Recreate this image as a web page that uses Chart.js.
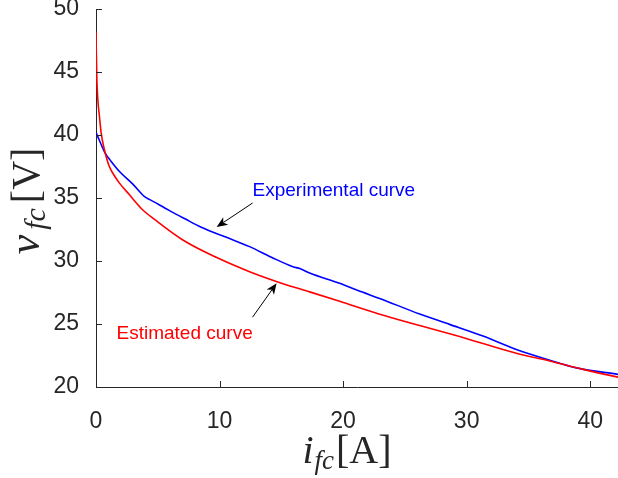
<!DOCTYPE html>
<html>
<head>
<meta charset="utf-8">
<script src="https://cdn.jsdelivr.net/npm/chart.js@4/dist/chart.umd.min.js"></script>
<style>
html,body{margin:0;padding:0;background:#fff;overflow:hidden;}
#wrap{width:618px;height:478px;}
</style>
</head>
<body>
<div id="wrap"><canvas id="c" width="618" height="478"></canvas></div>
<script>
// ---- data ----
const expX = [0, 0.28, 0.74, 1.23, 1.9, 2.98, 3.93, 4.4, 5.95, 7.2, 8.52, 10.5, 12.43, 14.2, 15.94, 16.5, 17.29, 19.72, 21.5, 22.96, 26.2, 28.62, 31.32, 34.02, 36.72, 38.88, 42.25];
const expY = [40.2, 39.56, 38.56, 37.9, 37.1, 36.1, 35.1, 34.85, 34.0, 33.35, 32.68, 31.9, 31.14, 30.3, 29.55, 29.4, 29.05, 28.23, 27.55, 27.03, 25.79, 24.97, 24.04, 22.98, 22.13, 21.52, 21.0];
const estX = [0, 0.02, 0.07, 0.15, 0.28, 0.42, 0.69, 1.0, 1.23, 1.5, 1.9, 2.71, 3.79, 4.74, 7.03, 9.73, 12.43, 15.13, 17.29, 19.72, 22.96, 26.2, 29.43, 31.32, 34.02, 36.72, 39.42, 42.25];
const estY = [48.2, 46.8, 44.4, 42.8, 41.47, 40.15, 38.8, 37.7, 37.2, 36.75, 36.18, 35.25, 34.05, 33.3, 31.67, 30.29, 29.15, 28.2, 27.55, 26.8, 25.78, 24.88, 24.0, 23.45, 22.68, 22.07, 21.4, 20.78];
const xTicks = [0, 10, 20, 30, 40];
const yTicks = [20, 25, 30, 35, 40, 45, 50];
const seriesNames = ['Estimated curve', 'Experimental curve'];
// annotation anchors in data units: [textX, textY, tailX, tailY, headX, headY]
const annExp = [12.67, 35.56, 12.67, 34.6, 9.76, 32.7];
const annEst = [1.66, 24.26, 12.67, 25.54, 14.62, 28.24];

const AX = '#262626';
const tickFont = {family: "'Liberation Sans', Arial, Helvetica, sans-serif", size: 23};

function pts(xs, ys){ return xs.map((x,i)=>({x:x, y:ys[i]})); }

function arrow(ctx, x1, y1, x2, y2){
  const ang = Math.atan2(y2-y1, x2-x1);
  const L = 11, W = 4.5, back = 8;
  ctx.save();
  ctx.strokeStyle = '#000'; ctx.fillStyle = '#000'; ctx.lineWidth = 1;
  ctx.beginPath(); ctx.moveTo(x1,y1);
  ctx.lineTo(x2 - Math.cos(ang)*back, y2 - Math.sin(ang)*back); ctx.stroke();
  ctx.translate(x2,y2); ctx.rotate(ang);
  ctx.beginPath(); ctx.moveTo(0,0); ctx.lineTo(-L, -W); ctx.lineTo(-back, 0); ctx.lineTo(-L, W); ctx.closePath(); ctx.fill();
  ctx.restore();
}

function mathLabel(ctx, main, sub, unit, cx, baseline, mainSize, subSize, g1, g2){
  const serif = "'Liberation Serif', 'DejaVu Serif', serif";
  const f1 = 'italic ' + mainSize + 'px ' + serif, f2 = 'italic ' + subSize + 'px ' + serif, f3 = '40px ' + serif;
  ctx.font = f1; const w1 = ctx.measureText(main).width;
  ctx.font = f2; const w2 = ctx.measureText(sub).width;
  ctx.font = f3; const w3 = ctx.measureText(unit).width;
  const tot = w1 + g1 + w2 + g2 + w3;
  let x = cx - tot/2;
  ctx.fillStyle = AX; ctx.textAlign = 'left'; ctx.textBaseline = 'alphabetic';
  ctx.font = f1; ctx.fillText(main, x, baseline); x += w1 + g1;
  ctx.font = f2; ctx.fillText(sub, x, baseline + 6); x += w2 + g2;
  ctx.font = f3; ctx.fillText(unit, x, baseline);
}

const deco = {
  id: 'deco',
  afterDraw(chart){
    const ctx = chart.ctx, xs = chart.scales.x, ys = chart.scales.y, ca = chart.chartArea;
    ctx.save();
    // inward tick marks
    ctx.strokeStyle = AX; ctx.lineWidth = 1;
    xTicks.forEach(v=>{ const p = Math.round(xs.getPixelForValue(v))+0.5; ctx.beginPath(); ctx.moveTo(p, ca.bottom); ctx.lineTo(p, ca.bottom-6); ctx.stroke(); });
    yTicks.forEach(v=>{ const p = Math.round(ys.getPixelForValue(v))+0.5; ctx.beginPath(); ctx.moveTo(ca.left, p); ctx.lineTo(ca.left+6, p); ctx.stroke(); });
    // annotations
    ctx.font = "19px 'Liberation Sans', Arial, sans-serif"; ctx.textBaseline = 'middle'; ctx.textAlign = 'left';
    ctx.fillStyle = '#0000ff';
    ctx.fillText(seriesNames[1], xs.getPixelForValue(annExp[0]), ys.getPixelForValue(annExp[1]));
    ctx.fillStyle = '#ff0000';
    ctx.fillText(seriesNames[0], xs.getPixelForValue(annEst[0]), ys.getPixelForValue(annEst[1]));
    arrow(ctx, xs.getPixelForValue(annExp[2]), ys.getPixelForValue(annExp[3]), xs.getPixelForValue(annExp[4]), ys.getPixelForValue(annExp[5]));
    arrow(ctx, xs.getPixelForValue(annEst[2]), ys.getPixelForValue(annEst[3]), xs.getPixelForValue(annEst[4]), ys.getPixelForValue(annEst[5]));
    // axis titles
    mathLabel(ctx, 'i', 'fc', '[A]', ca.left + 251, ca.bottom + 76, 40, 27, 1, 2);
    ctx.save();
    ctx.translate(ca.left - 57, (ca.top + ca.bottom)/2 + 3);
    ctx.rotate(-Math.PI/2);
    mathLabel(ctx, 'v', 'fc', '[V]', 0, 0, 44, 30, 5, 5);
    ctx.restore();
    ctx.restore();
  }
};

new Chart(document.getElementById('c'), {
  type: 'line',
  data: {
    datasets: [
      {label: seriesNames[0], data: pts(estX, estY), borderColor: '#ff0000', borderWidth: 1.6, pointRadius: 0, fill: false, cubicInterpolationMode: 'monotone'},
      {label: seriesNames[1], data: pts(expX, expY), borderColor: '#0000ff', borderWidth: 1.6, pointRadius: 0, fill: false, cubicInterpolationMode: 'monotone'}
    ]
  },
  options: {
    responsive: false, animation: false, devicePixelRatio: 1,
    layout: {padding: {top: 9, left: 0, right: 0, bottom: 0}},
    plugins: {legend: {display: false}, tooltip: {enabled: false}},
    scales: {
      x: {
        type: 'linear', min: 0, max: 42.25,
        grid: {display: false}, border: {display: true, color: AX, width: 1},
        ticks: {font: tickFont, color: AX, padding: 13, maxRotation: 0},
        afterBuildTicks: s => { s.ticks = xTicks.map(v=>({value: v})); },
        afterFit: s => { s.height = 91; s.paddingLeft = 0; s.paddingRight = 0; }
      },
      y: {
        type: 'linear', min: 20, max: 50,
        grid: {display: false}, border: {display: true, color: AX, width: 1},
        ticks: {font: tickFont, color: AX, padding: 9},
        afterBuildTicks: s => { s.ticks = yTicks.map(v=>({value: v})); },
        afterFit: s => { s.width = 96; s.paddingTop = 0; s.paddingBottom = 0; }
      }
    }
  },
  plugins: [deco]
});
</script>
</body>
</html>
